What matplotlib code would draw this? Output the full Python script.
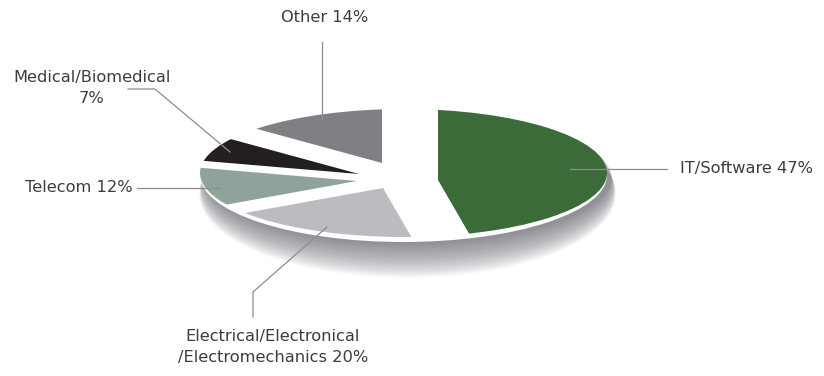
import matplotlib
matplotlib.use('Agg')
import matplotlib.pyplot as plt
from matplotlib.patches import Ellipse

# ================================================================================== #
' Data '

sectors = ['IT/Software', 'Electrical/Electronical\n/Electromechanics', 'Telecom',
           'Medical/Biomedical', 'Other']
shares = [47, 20, 12, 7, 14]
label_sep = [' ', ' ', ' ', '\n', ' ']
colors = ['#3b6b38', '#bbbcbf', '#8fa39b', '#231f20', '#7f8083']

# ================================================================================== #
' Layout (pixels) '

W, H = 824, 376
cx, cy = 403.5, 175.0    # centre of the flattened pie
rx, ry = 203.5, 67.0     # half axes of the ellipse

# tip of every slice (the slices are pulled apart)
tips = [(438, 180), (383, 188), (357, 181), (359, 174), (382, 163)]

# label anchor, alignment, leader line points
layout = [
    dict(xy=(680, 169), ha='left', line=[(570, 169), (667, 169)]),
    dict(xy=(273, 347), ha='center', line=[(253, 317), (253, 292), (327, 227)]),
    dict(xy=(133, 188), ha='right', line=[(137, 188), (220, 188)]),
    dict(xy=(92, 88), ha='center', line=[(128, 89), (155, 89), (230, 152)]),
    dict(xy=(325, 18), ha='center', line=[(322, 42), (322, 121)]),
]


def to_data(px, py):
    return (px - cx) / rx, (cy - py) / ry


# ================================================================================== #
' Plotting '

fig = plt.figure(figsize=(W / 100, H / 100), dpi=100)
ax = fig.add_axes([0, 0, 1, 1])

# soft shadow under the disc
for k in range(40):
    ax.add_patch(Ellipse(to_data(cx + 4, cy + 2 + 0.45 * k),
                         2 * (rx + 0.12 * k) / rx, 2 * (ry + 0.42 * k) / ry,
                         facecolor='#62626f', edgecolor='none', alpha=0.022, zorder=0.2))

# white base of the disc and the top face the slices sit on
base = Ellipse((0, 0), 2, 2, facecolor='white', edgecolor='none', zorder=0.5)
ax.add_patch(base)
face = Ellipse(to_data(cx, cy - 2), 2, 2 * 64 / ry, facecolor='none', edgecolor='none')
ax.add_patch(face)

wedges, _ = ax.pie(shares, colors=colors, startangle=90, counterclock=False,
                   radius=1.4, frame=True,
                   wedgeprops=dict(edgecolor='none', linewidth=0))
ax.set_aspect('auto')
ax.set_xlim(-cx / rx, (W - cx) / rx)
ax.set_ylim((cy - H) / ry, cy / ry)
ax.axis('off')

for w, tip in zip(wedges, tips):
    w.set_center(to_data(*tip))
    w.set_zorder(1)
    w.set_clip_on(True)   # pie turns clipping off for its wedges
    w.set_clip_path(face.get_path(), face.get_transform())

# labels and leader lines
ax2 = fig.add_axes([0, 0, 1, 1])
ax2.set_xlim(0, W)
ax2.set_ylim(H, 0)
ax2.axis('off')

for name, share, sep, lay in zip(sectors, shares, label_sep, layout):
    xs = [p[0] for p in lay['line']]
    ys = [p[1] for p in lay['line']]
    ax2.plot(xs, ys, color='#8c8c8c', linewidth=0.9)
    ax2.text(lay['xy'][0], lay['xy'][1], f'{name}{sep}{share}%', ha=lay['ha'], va='center',
             fontsize=11.7, color='#3d3d3d', family='DejaVu Sans', linespacing=1.55,
             multialignment='center')

fig.savefig('out.png', dpi=100, facecolor='white')
